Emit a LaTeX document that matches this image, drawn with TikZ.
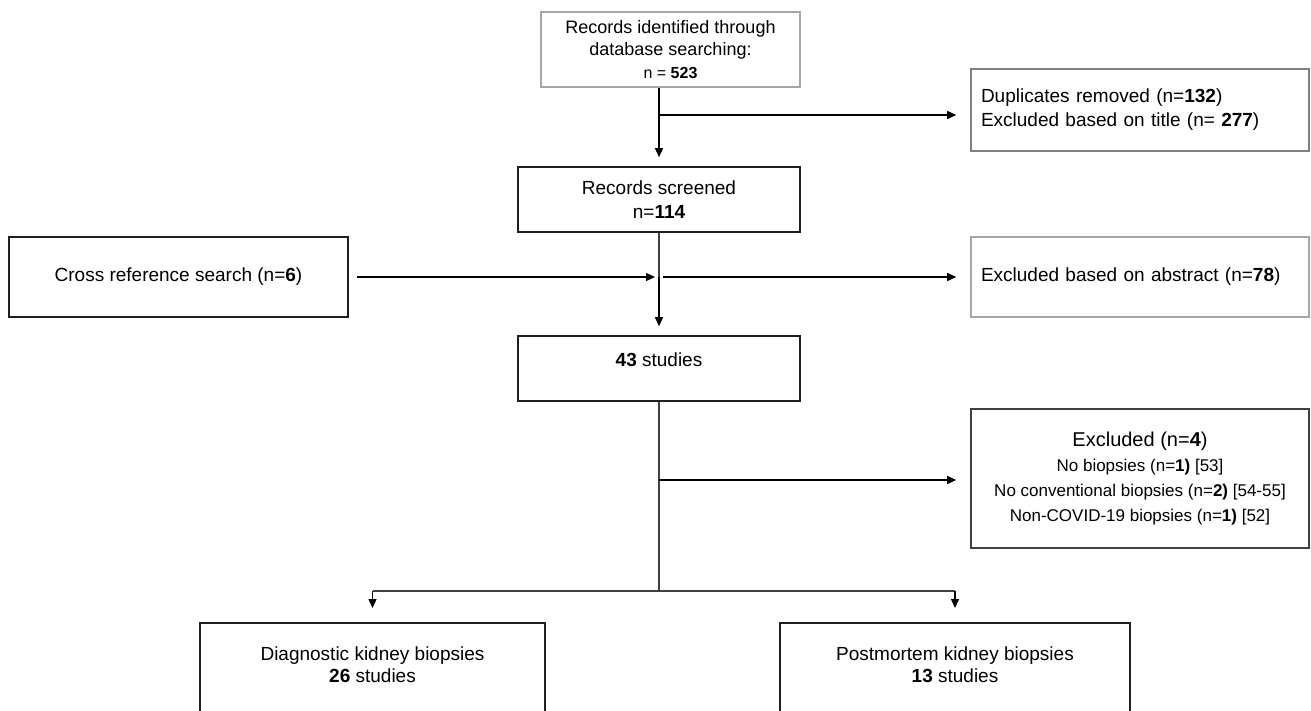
\documentclass[tikz,border=0pt]{standalone}
\usepackage{fontspec}
\setmainfont{Liberation Sans}
\usetikzlibrary{arrows.meta}
\begin{document}
\begin{tikzpicture}[x=1pt,y=-1pt,
  every node/.style={font=\fontsize{19}{24}\selectfont},
  box/.style={draw=black!88, line width=1.6pt, rectangle, inner sep=0pt, align=center},
  lightbox/.style={draw=black!35, line width=1.6pt, rectangle, inner sep=0pt},
  greybox/.style={draw=black!50, line width=1.6pt, rectangle, inner sep=0pt},
  darkbox/.style={draw=black!75, line width=1.6pt, rectangle, inner sep=0pt, align=center},
  conn/.style={draw=black!75, line width=1.3pt},
  arr/.style={draw=black, line width=1.3pt, -{Triangle[length=9pt,width=8pt]}}
]
\useasboundingbox (0,0) rectangle (1311,710);

% boxes
\node[lightbox, align=center, minimum width=259pt, minimum height=75pt,
      font=\fontsize{18}{22.5}\selectfont] (ident) at (670.5,49.5)
  {Records identified through\\database searching:\\{\fontsize{16}{19}\selectfont n = \textbf{523}}};
\node[greybox, minimum width=338pt, minimum height=82pt, text width=318pt, align=left] (dup) at (1140,110)
  {Duplicates removed (n=\textbf{132})\\Excluded based on title (n= \textbf{277})};
\node[box, minimum width=282pt, minimum height=65pt] (screened) at (659,199.5)
  {Records screened\\n=\textbf{114}};
\node[box, minimum width=339pt, minimum height=80pt] (cross) at (178.5,277)
  {Cross reference search (n=\textbf{6})};
\node[lightbox, minimum width=338pt, minimum height=80pt, text width=318pt, align=left] (abstract) at (1140,277)
  {Excluded based on abstract (n=\textbf{78})};
\node[box, minimum width=282pt, minimum height=65pt, text height=14pt, text depth=19pt] (studies) at (659,368.5)
  {\textbf{43} studies};
\node[darkbox, minimum width=338pt, minimum height=139pt, font=\fontsize{17}{25}\selectfont] (excl) at (1140,478.5)
  {{\fontsize{20}{25}\selectfont Excluded (n=\textbf{4})}\\
   No biopsies (n=\textbf{1)} [53]\\
   No conventional biopsies (n=\textbf{2)} [54-55]\\
   Non-COVID-19 biopsies (n=\textbf{1)} [52]};
\node[box, anchor=north, minimum width=345pt, minimum height=130pt, font=\fontsize{19}{22}\selectfont] (diag) at (372.5,622)
  {Diagnostic kidney biopsies\\\textbf{26} studies\\[24pt]\mbox{}};
\node[box, anchor=north, minimum width=350pt, minimum height=130pt, font=\fontsize{19}{22}\selectfont] (post) at (955,622)
  {Postmortem kidney biopsies\\\textbf{13} studies\\[24pt]\mbox{}};

% junctions
\coordinate (j1) at (659,115);
\coordinate (j2) at (659,277);
\coordinate (j3) at (659,480);
\coordinate (j4) at (659,591);

% connectors
\draw[arr, shorten >=9pt] (ident.south -| screened.north) -- (screened.north);
\draw[arr, shorten >=14pt] (j1) -- (j1 -| dup.west);
\draw[conn] (screened.south) -- (j2);
\draw[arr, shorten >=9pt] (j2) -- (studies.north);
\draw[arr, shorten <=8pt, shorten >=4pt] (cross.east) -- (j2);
\draw[arr, shorten <=4pt, shorten >=14pt] (j2) -- (j2 -| abstract.west);
\draw[conn] (studies.south) -- (j4);
\draw[arr, shorten >=14pt] (j3) -- (j3 -| excl.west);
\draw[conn] (diag.north |- j4) -- (post.north |- j4);
\draw[arr, shorten >=14pt] (diag.north |- j4) -- (diag.north);
\draw[arr, shorten >=14pt] (post.north |- j4) -- (post.north);
\end{tikzpicture}
\end{document}
